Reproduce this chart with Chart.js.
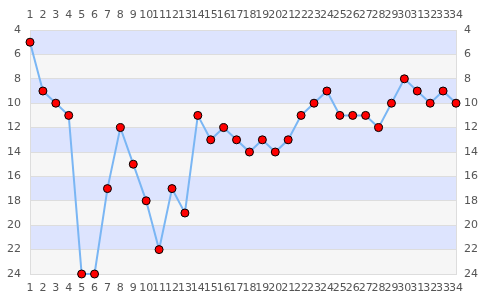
<!DOCTYPE html>
<html><head><meta charset="utf-8">
<script src="https://cdn.jsdelivr.net/npm/chart.js@4/dist/chart.umd.min.js"></script>
<style>html,body{margin:0;padding:0;background:#fff}#wrap{width:485px;height:300px}</style>
</head><body><div id="wrap"><canvas id="c" width="485" height="300"></canvas></div>
<script>
const categories = ['1','2','3','4','5','6','7','8','9','10','11','12','13','14','15','16','17','18','19','20','21','22','23','24','25','26','27','28','29','30','31','32','33','34'];
const positions = [5,9,10,11,24,24,17,12,15,18,22,17,19,11,13,12,13,14,13,14,13,11,10,9,11,11,11,12,10,8,9,10,9,10];
const yTicks = [4,6,8,10,12,14,16,18,20,22,24];

const bandPlugin = {
  id: 'bands',
  beforeDraw(chart) {
    const {ctx, chartArea, scales} = chart;
    const y = scales.y;
    ctx.save();
    for (let i = 0; i < yTicks.length - 1; i++) {
      const a = y.getPixelForValue(yTicks[i]);
      const b = y.getPixelForValue(yTicks[i + 1]);
      ctx.fillStyle = i % 2 === 0 ? '#dde4fe' : '#f6f6f6';
      ctx.fillRect(chartArea.left, Math.min(a, b), chartArea.right - chartArea.left, Math.abs(b - a));
    }
    ctx.restore();
  }
};

const font = {family: 'DejaVu Sans', size: 11};
const tickColor = '#555';

new Chart(document.getElementById('c'), {
  type: 'line',
  data: {
    labels: categories,
    datasets: [{
      data: positions,
      borderColor: '#7ab6f4',
      borderWidth: 2,
      tension: 0,
      pointRadius: 4,
      pointBackgroundColor: '#ff0000',
      pointBorderColor: '#000',
      pointBorderWidth: 1,
      clip: false
    }]
  },
  options: {
    responsive: false,
    animation: false,
    layout: {padding: 0},
    plugins: {legend: {display: false}, tooltip: {enabled: false}},
    scales: {
      x: {
        position: 'bottom', offset: false,
        grid: {display: false, drawTicks: false},
        border: {display: true, color: '#dddddd'},
        ticks: {autoSkip: false, maxRotation: 0, font, color: tickColor, padding: 8},
        afterFit(s) { s.height = 26; }
      },
      x2: {
        position: 'top', offset: false, type: 'category', labels: categories,
        grid: {display: false, drawTicks: false},
        border: {display: true, color: '#dddddd'},
        ticks: {autoSkip: false, maxRotation: 0, font, color: tickColor, padding: 8},
        afterFit(s) { s.height = 30; }
      },
      y: {
        position: 'left', reverse: true, min: 4, max: 24,
        afterBuildTicks(s) { s.ticks = yTicks.map(v => ({value: v})); },
        grid: {color: '#dddddd', drawTicks: false},
        border: {display: true, color: '#dddddd'},
        ticks: {font, color: tickColor, padding: 9},
        afterFit(s) { s.width = 30; }
      },
      y2: {
        position: 'right', reverse: true, min: 4, max: 24,
        afterBuildTicks(s) { s.ticks = yTicks.map(v => ({value: v})); },
        grid: {display: false, drawTicks: false},
        border: {display: true, color: '#dddddd'},
        ticks: {font, color: tickColor, padding: 8},
        afterFit(s) { s.width = 29; }
      }
    }
  },
  plugins: [bandPlugin]
});
</script>
</body></html>
